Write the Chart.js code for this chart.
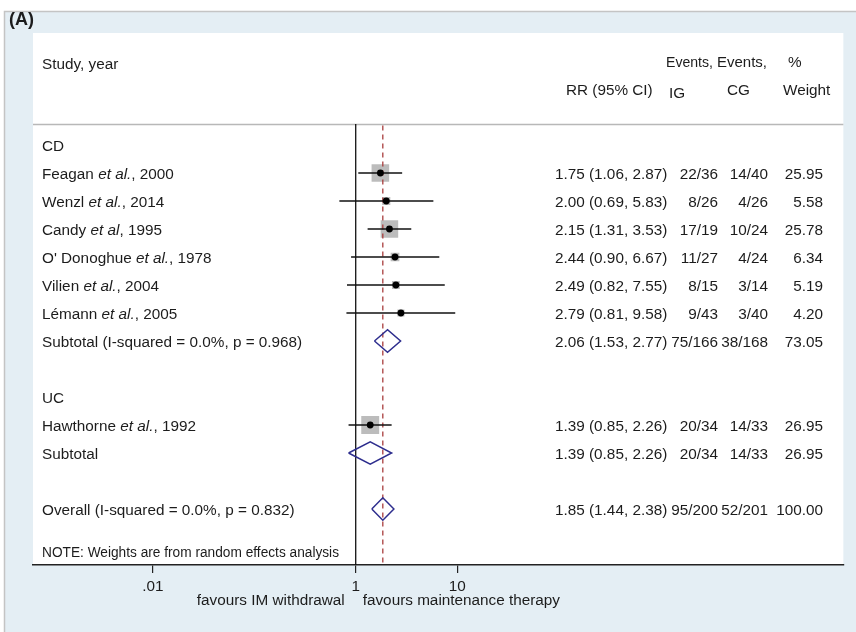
<!DOCTYPE html>
<html>
<head>
<meta charset="utf-8">
<script src="https://cdn.jsdelivr.net/npm/chart.js@4.4.0/dist/chart.umd.min.js"></script>
<style>
html, body { margin: 0; padding: 0; background: #fff; }
#wrap { width: 856px; height: 632px; }
</style>
</head>
<body>
<div id="wrap"><canvas id="forestChart" width="856" height="632"></canvas></div>
<script>
// individual studies
const studyNames = ['Feagan', 'Wenzl', 'Candy', "O' Donoghue", 'Vilien', 'Lémann', 'Hawthorne'];
const studyEtAl = ['et al.', 'et al.', 'et al', 'et al.', 'et al.', 'et al.', 'et al.'];
const studyYears = [2000, 2014, 1995, 1978, 2004, 2005, 1992];
const studyRows = [5, 6, 7, 8, 9, 10, 14];
const studyRR = [1.75, 2.00, 2.15, 2.44, 2.49, 2.79, 1.39];
const studyLow = [1.06, 0.69, 1.31, 0.90, 0.82, 0.81, 0.85];
const studyHigh = [2.87, 5.83, 3.53, 6.67, 7.55, 9.58, 2.26];
const studyIG = ['22/36', '8/26', '17/19', '11/27', '8/15', '9/43', '20/34'];
const studyCG = ['14/40', '4/26', '10/24', '4/24', '3/14', '3/40', '14/33'];
const studyWeight = [25.95, 5.58, 25.78, 6.34, 5.19, 4.20, 26.95];

// subtotals and overall
const pooledLabels = ['Subtotal (I-squared = 0.0%, p = 0.968)', 'Subtotal', 'Overall (I-squared = 0.0%, p = 0.832)'];
const pooledRows = [11, 15, 17];
const pooledRR = [2.06, 1.39, 1.85];
const pooledLow = [1.53, 0.85, 1.44];
const pooledHigh = [2.77, 2.26, 2.38];
const pooledIG = ['75/166', '20/34', '95/200'];
const pooledCG = ['38/168', '14/33', '52/201'];
const pooledWeight = [73.05, 26.95, 100.00];

const groupLabels = ['CD', 'UC'];
const groupRows = [4, 13];

const xTicks = [0.01, 1, 10];
const xTickLabels = ['.01', '1', '10'];

const FONT = '"Liberation Sans", Arial, sans-serif';
const TEXT = '#1c1c1c';
const TOP_ROW = 3.25, BOTTOM_ROW = 19;

const datasets = [];

// CI whiskers
studyRR.forEach((rr, i) => {
    datasets.push({
        data: [{x: studyLow[i], y: studyRows[i]}, {x: studyHigh[i], y: studyRows[i]}],
        showLine: true, borderColor: '#111', borderWidth: 1.4, pointRadius: 0, order: 3
    });
});

// weight boxes
datasets.push({
    data: studyRR.map((rr, i) => ({x: rr, y: studyRows[i]})),
    pointStyle: 'rect',
    pointRadius: c => 3.45 * Math.sqrt(studyWeight[c.dataIndex]) / Math.SQRT2,
    backgroundColor: '#bcbcbc', borderWidth: 0, order: 6
});

// point estimates
datasets.push({
    data: studyRR.map((rr, i) => ({x: rr, y: studyRows[i]})),
    pointStyle: 'circle', pointRadius: 3.4,
    backgroundColor: '#000', borderWidth: 0, order: 1
});

// pooled diamonds
pooledRR.forEach((rr, i) => {
    const r = pooledRows[i];
    datasets.push({
        data: [
            {x: pooledLow[i], y: r}, {x: rr, y: r - 0.4}, {x: pooledHigh[i], y: r},
            {x: rr, y: r + 0.4}, {x: pooledLow[i], y: r}
        ],
        showLine: true, borderColor: '#2e2e8e', borderWidth: 1.5, pointRadius: 0, order: 2
    });
});

// line of no effect
datasets.push({
    data: [{x: 1, y: TOP_ROW}, {x: 1, y: BOTTOM_ROW}],
    showLine: true, borderColor: '#111', borderWidth: 1.3, pointRadius: 0, order: 5
});

// overall effect line
datasets.push({
    data: [{x: pooledRR[2], y: TOP_ROW + 0.05}, {x: pooledRR[2], y: BOTTOM_ROW}],
    showLine: true, borderColor: '#a83c3c', borderWidth: 1.3, borderDash: [5, 4], pointRadius: 0, order: 4
});

const backdrop = {
    id: 'backdrop',
    beforeDraw(chart) {
        const {ctx, chartArea: a, scales: {y}} = chart;
        ctx.save();
        ctx.fillStyle = '#fff';
        ctx.fillRect(0, 0, chart.width, chart.height);
        ctx.fillStyle = '#e4eef4';
        ctx.fillRect(4, 11, chart.width - 4, chart.height - 11);
        ctx.strokeStyle = '#c4c4c4';
        ctx.lineWidth = 1.5;
        ctx.beginPath();
        ctx.moveTo(4.5, chart.height);
        ctx.lineTo(4.5, 11.5);
        ctx.lineTo(chart.width, 11.5);
        ctx.stroke();
        ctx.fillStyle = '#fff';
        ctx.fillRect(a.left, a.top, a.right - a.left, a.bottom - a.top);
        const sy = Math.round(y.getPixelForValue(TOP_ROW)) + 0.5;
        ctx.strokeStyle = '#b8b8b8';
        ctx.beginPath();
        ctx.moveTo(a.left, sy);
        ctx.lineTo(a.right, sy);
        ctx.stroke();
        ctx.restore();
    }
};

const textColumns = {
    id: 'textColumns',
    afterDraw(chart) {
        const {ctx, chartArea: a, scales: {x, y}} = chart;
        const py = r => y.getPixelForValue(r) + 2;
        const norm = '15.3px ' + FONT;
        ctx.save();
        ctx.fillStyle = TEXT;
        ctx.textBaseline = 'middle';

        ctx.font = 'bold 18px ' + FONT;
        ctx.fillText('(A)', 9, 20);

        ctx.font = norm;
        ctx.textAlign = 'left';
        ctx.fillText('Study, year', 42, py(1.15) - 2);
        ctx.fillText('Events,', 666, py(1.07) - 2, 47);
        ctx.fillText('Events,', 717, py(1.07) - 2, 50);
        ctx.fillText('%', 788, py(1.07) - 2);
        ctx.fillText('RR (95% CI)', 566, py(2.07) - 2);
        ctx.fillText('IG', 669, py(2.07) + 1);
        ctx.fillText('CG', 727, py(2.07) - 2);
        ctx.fillText('Weight', 783, py(2.07) - 2);

        groupLabels.forEach((g, i) => ctx.fillText(g, 42, py(groupRows[i])));

        const rrText = (e, l, h) => e.toFixed(2) + ' (' + l.toFixed(2) + ', ' + h.toFixed(2) + ')';
        const rightCols = (row, rr, ig, cg, w) => {
            ctx.textAlign = 'left';
            ctx.fillText(rr, 555, py(row));
            ctx.textAlign = 'right';
            ctx.fillText(ig, 718, py(row));
            ctx.fillText(cg, 768, py(row));
            ctx.fillText(w.toFixed(2), 823, py(row));
        };

        studyNames.forEach((n, i) => {
            const r = studyRows[i];
            let cx = 42;
            ctx.textAlign = 'left';
            ctx.font = norm;
            ctx.fillText(n + ' ', cx, py(r));
            cx += ctx.measureText(n + ' ').width;
            ctx.font = 'italic ' + norm;
            ctx.fillText(studyEtAl[i], cx, py(r));
            cx += ctx.measureText(studyEtAl[i]).width;
            ctx.font = norm;
            ctx.fillText(', ' + studyYears[i], cx, py(r));
            rightCols(r, rrText(studyRR[i], studyLow[i], studyHigh[i]), studyIG[i], studyCG[i], studyWeight[i]);
        });

        pooledLabels.forEach((lab, i) => {
            const r = pooledRows[i];
            ctx.textAlign = 'left';
            ctx.fillText(lab, 42, py(r));
            rightCols(r, rrText(pooledRR[i], pooledLow[i], pooledHigh[i]), pooledIG[i], pooledCG[i], pooledWeight[i]);
        });

        ctx.textAlign = 'left';
        ctx.font = '14px ' + FONT;
        ctx.fillText('NOTE: Weights are from random effects analysis', 42, py(18.5), 297);

        const x1 = x.getPixelForValue(1);
        ctx.font = norm;
        ctx.textAlign = 'right';
        ctx.fillText('favours IM withdrawal', x1 - 11, a.bottom + 36);
        ctx.textAlign = 'left';
        ctx.fillText('favours maintenance therapy', x1 + 7, a.bottom + 36);
        ctx.restore();
    }
};

new Chart(document.getElementById('forestChart'), {
    type: 'scatter',
    data: { datasets: datasets },
    options: {
        responsive: false,
        animation: false,
        layout: { padding: { left: 33, right: 12, top: 33, bottom: 32 } },
        plugins: { legend: { display: false }, tooltip: { enabled: false } },
        scales: {
            x: {
                type: 'logarithmic',
                bounds: 'data',
                min: Math.pow(10, -3.182),
                max: Math.pow(10, 4.808),
                afterBuildTicks: s => { s.ticks = xTicks.map(v => ({ value: v })); },
                afterFit: s => { s.height = 35; },
                ticks: {
                    callback: (v, i) => xTickLabels[i],
                    autoSkip: false, maxRotation: 0, padding: 5,
                    color: TEXT, font: { family: FONT, size: 15.3 }
                },
                grid: { drawOnChartArea: false, drawTicks: true, tickLength: 8, color: '#222', lineWidth: 1.2 },
                border: { display: true, color: '#222', width: 1.6 }
            },
            y: {
                type: 'linear', min: 0, max: BOTTOM_ROW, reverse: true, display: false
            }
        }
    },
    plugins: [backdrop, textColumns]
});
</script>
</body>
</html>
